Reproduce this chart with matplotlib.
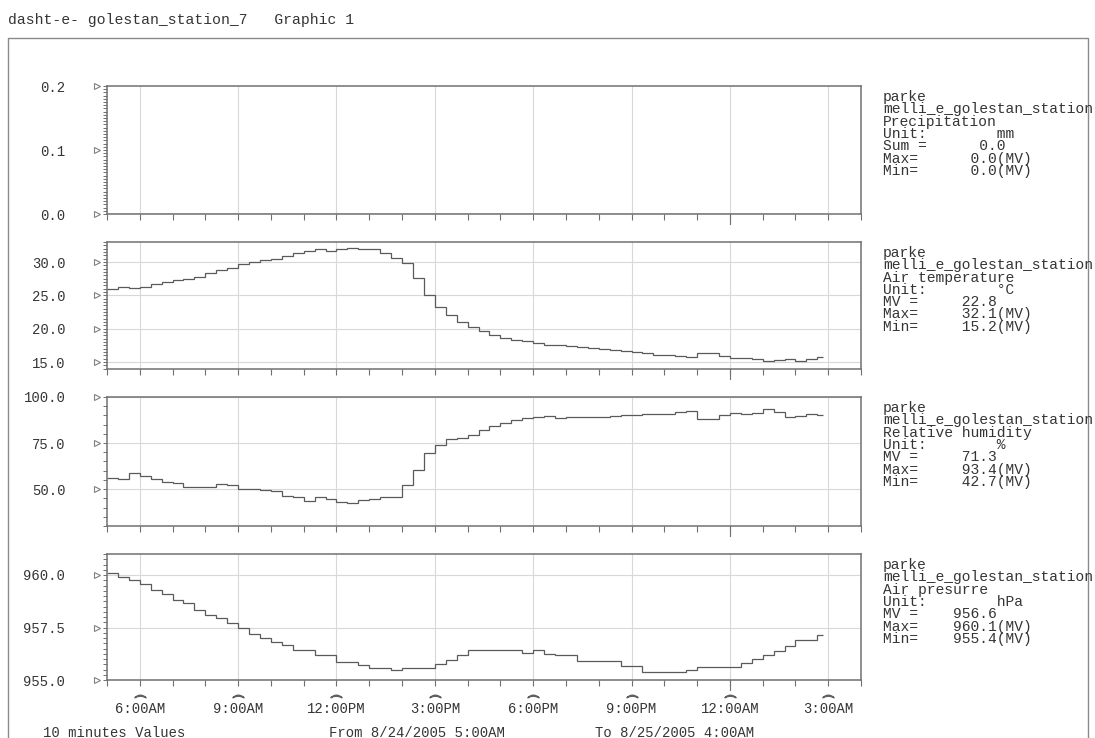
import numpy as np
import pandas as pd
import matplotlib
matplotlib.use("Agg")
import matplotlib.pyplot as plt
import matplotlib.dates as mdates
import matplotlib.transforms as mtransforms
from matplotlib.ticker import FixedLocator, MultipleLocator, FuncFormatter

plt.rcParams['font.family'] = ['Liberation Mono', 'DejaVu Sans Mono']

W, H = 1095, 738

# 20 minute readings, 8/24/2005 5:00AM .. 8/25/2005 2:50AM
start = "2005-08-24 05:00"
data_end = "2005-08-25 02:50"
view = ("2005-08-24 05:00", "2005-08-25 04:00")

precip = [0.0] * 66

temp = [25.9, 26.3, 26.1, 26.2, 26.7, 27.0, 27.3, 27.5, 27.8, 28.3, 28.8, 29.1,
        29.7, 30.0, 30.3, 30.4, 30.9, 31.4, 31.7, 31.9, 31.7, 32.0, 32.1, 32.0,
        31.9, 31.4, 30.6, 29.9, 27.6, 25.0, 23.2, 22.0, 21.0, 20.3, 19.6, 19.0,
        18.6, 18.3, 18.1, 17.9, 17.6, 17.5, 17.4, 17.2, 17.1, 17.0, 16.8, 16.6,
        16.5, 16.3, 16.0, 16.0, 15.9, 15.8, 16.3, 16.4, 15.9, 15.6, 15.6, 15.5,
        15.2, 15.3, 15.4, 15.2, 15.4, 15.8]

rh = [56.3, 55.3, 58.5, 57.0, 55.3, 54.0, 53.4, 51.3, 51.3, 51.0, 53.0, 52.0,
      50.0, 50.0, 49.5, 49.1, 46.1, 45.8, 43.5, 45.5, 44.5, 43.1, 42.7, 44.0,
      44.9, 45.8, 45.8, 52.3, 60.3, 69.4, 74.0, 77.0, 78.0, 79.5, 82.0, 84.5,
      85.7, 87.5, 88.5, 89.3, 89.5, 88.5, 88.9, 89.0, 89.2, 89.3, 89.8, 90.2,
      90.4, 90.6, 90.8, 91.0, 92.0, 92.3, 87.9, 87.9, 90.5, 91.1, 90.7, 91.5,
      93.4, 92.0, 89.3, 89.5, 90.9, 90.0]

pres = [960.1, 959.9, 959.75, 959.55, 959.3, 959.1, 958.8, 958.65, 958.35, 958.1,
        957.95, 957.7, 957.5, 957.2, 957.0, 956.8, 956.65, 956.42, 956.42, 956.18,
        956.18, 955.86, 955.86, 955.7, 955.58, 955.58, 955.47, 955.58, 955.58, 955.58,
        955.78, 955.94, 956.18, 956.42, 956.42, 956.42, 956.42, 956.42, 956.3, 956.42,
        956.26, 956.18, 956.18, 955.91, 955.91, 955.91, 955.91, 955.66, 955.66, 955.4,
        955.4, 955.4, 955.4, 955.47, 955.6, 955.6, 955.6, 955.6, 955.8, 956.0,
        956.18, 956.4, 956.6, 956.89, 956.89, 957.15]

precip_info = ["parke", "melli_e_golestan_station", "Precipitation",
               "Unit:        mm", "Sum =      0.0", "Max=      0.0(MV)", "Min=      0.0(MV)"]
temp_info = ["parke", "melli_e_golestan_station", "Air temperature",
             "Unit:        °C", "MV =     22.8", "Max=     32.1(MV)", "Min=     15.2(MV)"]
rh_info = ["parke", "melli_e_golestan_station", "Relative humidity",
           "Unit:        %", "MV =     71.3", "Max=     93.4(MV)", "Min=     42.7(MV)"]
pres_info = ["parke", "melli_e_golestan_station", "Air presurre",
             "Unit:        hPa", "MV =    956.6", "Max=    960.1(MV)", "Min=    955.4(MV)"]


def px(x):
    return x / W


def py(y):
    return 1 - y / H


LINE = "#5a5a5a"
FRAME = "#707070"
GRID = "#d8d8d8"
TXT = "#353535"

edges = list(pd.date_range(start, periods=len(temp) + 1, freq="20min"))
edges[-1] = pd.Timestamp(data_end)
edges = mdates.date2num(edges)
x0, x1 = mdates.date2num([pd.Timestamp(v) for v in view])

panels = [
    dict(vals=precip, ylim=(0.0, 0.2), major=[0.0, 0.1, 0.2], minor=0.005, top=86, bot=214, hgrid=False, info=precip_info),
    dict(vals=temp, ylim=(13.95, 33.0), major=[15, 20, 25, 30], minor=0.5, top=242, bot=369, hgrid=True, info=temp_info),
    dict(vals=rh, ylim=(30.0, 100.0), major=[50, 75, 100], minor=5, top=397, bot=526, hgrid=True, info=rh_info),
    dict(vals=pres, ylim=(955.0, 961.0), major=[955.0, 957.5, 960.0], minor=0.25, top=554, bot=680, hgrid=True, info=pres_info),
]

fig = plt.figure(figsize=(W / 100, H / 100), dpi=100)

# page frame
fig.add_artist(plt.Line2D([px(8), px(8), px(1088), px(1088)], [py(738), py(38), py(38), py(738)],
                          color="#8a8a8a", lw=1.0, transform=fig.transFigure))
fig.text(px(8), py(20), "dasht-e- golestan_station_7   Graphic 1", fontsize=10.6, color=TXT, va="center")

def hour_fmt(x, pos=None):
    d = mdates.num2date(x)
    h = d.hour % 12
    if h == 0:
        h = 12
    return f"{h}:{d.minute:02d}{'AM' if d.hour < 12 else 'PM'}"

for i, p in enumerate(panels):
    ax = fig.add_axes([px(107), py(p["bot"]), px(861 - 107), (p["bot"] - p["top"]) / H])
    ax.stairs(p["vals"], edges, baseline=None, color=LINE, lw=0.9)
    ax.set_xlim(x0, x1)
    ax.set_ylim(*p["ylim"])
    ax.xaxis_date()
    ax.xaxis.set_major_locator(mdates.HourLocator(byhour=range(0, 24, 3)))
    ax.xaxis.set_minor_locator(mdates.HourLocator())
    ax.yaxis.set_major_locator(FixedLocator(p["major"]))
    ax.yaxis.set_minor_locator(MultipleLocator(p["minor"]))
    ax.yaxis.set_major_formatter(FuncFormatter(lambda v, pos: f"{v:.1f}"))
    for s in ax.spines.values():
        s.set_color(FRAME)
        s.set_linewidth(1.1)
    ax.tick_params(axis="y", which="both", direction="out", length=3, width=0.7, color=FRAME,
                   labelsize=10, labelcolor=TXT, pad=27)
    ax.tick_params(axis="x", which="both", direction="out", length=4, width=0.8, color=FRAME,
                   labelsize=10, labelcolor=TXT, pad=12)
    ax.grid(axis="x", which="major", color=GRID, lw=0.8)
    if p["hgrid"]:
        ax.grid(axis="y", which="major", color=GRID, lw=0.8)
    ax.set_axisbelow(True)

    # open triangle markers at the labelled values
    ytr = mtransforms.blended_transform_factory(ax.transAxes, ax.transData)
    ax.plot([-10 / 754] * len(p["major"]), p["major"], ls="none", marker=">", ms=5,
            mfc="white", mec="#808080", mew=0.8, transform=ytr, clip_on=False)

    # day change tick
    xtr = mtransforms.blended_transform_factory(ax.transData, ax.transAxes)
    midnight = mdates.date2num(pd.Timestamp("2005-08-25 00:00"))
    ax.plot([midnight, midnight], [0, -10 / (p["bot"] - p["top"])], color=FRAME, lw=0.8,
            transform=xtr, clip_on=False)

    if i == len(panels) - 1:
        ax.xaxis.set_major_formatter(FuncFormatter(hour_fmt))
        ticks = [t for t in ax.get_xticks() if x0 <= t <= x1]
        ax.plot(ticks, [-16 / 126] * len(ticks), ls="none", marker=r"$\frown$", ms=8,
                color="#606060", transform=xtr, clip_on=False)
    else:
        ax.set_xticklabels([])

    for k, line in enumerate(p["info"]):
        fig.text(px(883), py(p["top"] + 11 + 12.3 * k), line, fontsize=10.5, color=TXT, va="center")

fig.text(px(43), py(733), "10 minutes Values", fontsize=10, color=TXT, va="center")
fig.text(px(329), py(733), "From 8/24/2005 5:00AM", fontsize=10, color=TXT, va="center")
fig.text(px(595), py(733), "To 8/25/2005 4:00AM", fontsize=10, color=TXT, va="center")

fig.savefig("out.png", dpi=100, facecolor="white")
